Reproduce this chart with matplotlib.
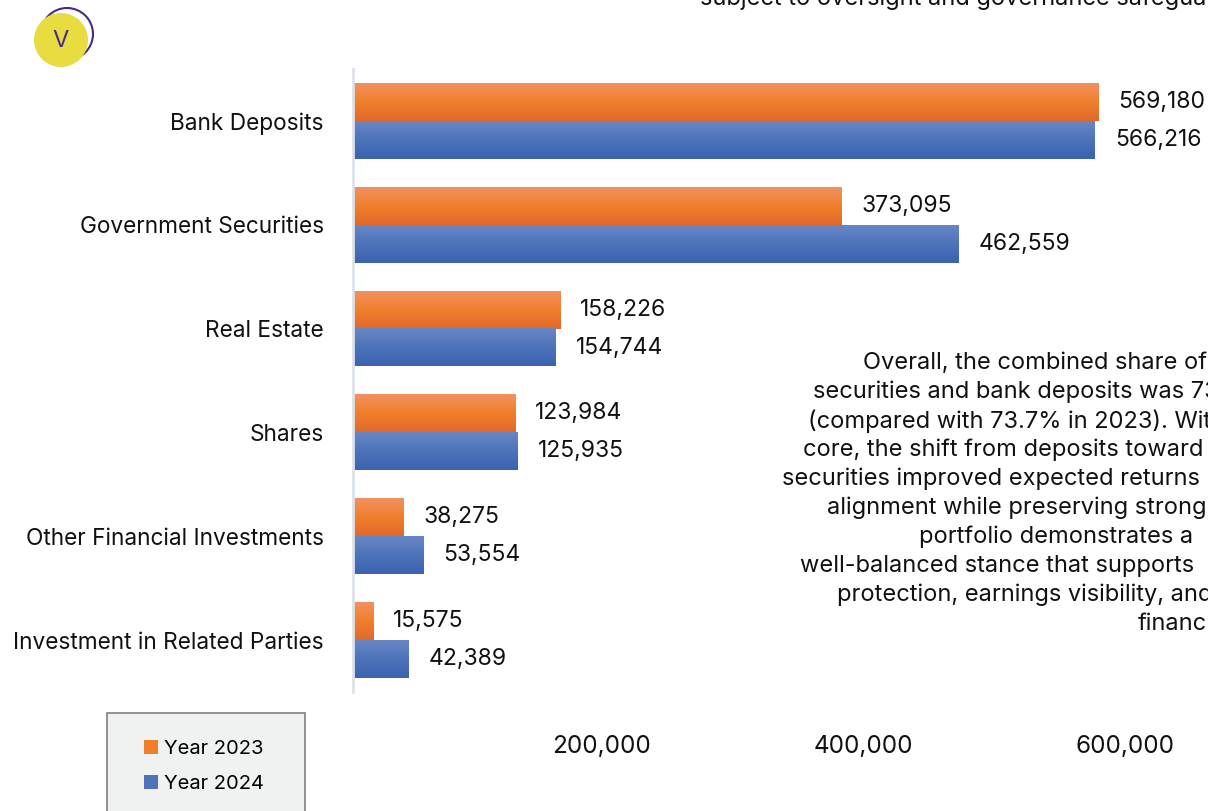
import numpy as np
import matplotlib.pyplot as plt
from matplotlib.patches import Rectangle, Circle
from matplotlib.colors import LinearSegmentedColormap
from matplotlib.transforms import ScaledTranslation

categories = ['Bank Deposits', 'Government Securities', 'Real Estate', 'Shares',
              'Other Financial Investments', 'Investment in Related Parties']
year_2023 = [569180, 373095, 158226, 123984, 38275, 15575]
year_2024 = [566216, 462559, 154744, 125935, 53554, 42389]
xticks = [200000, 400000, 600000]

note_lines = [
    'Overall, the combined share of',
    'securities and bank deposits was 73',
    '(compared with 73.7% in 2023). Wit',
    'core, the shift from deposits toward',
    'securities improved expected returns',
    'alignment while preserving strong',
    'portfolio demonstrates a',
    'well-balanced stance that supports',
    'protection, earnings visibility, and',
    'financ',
]
note_x = [863, 813, 808, 803, 782, 827, 919, 800, 837, 1138]

plt.rcParams['font.family'] = ['Inter', 'DejaVu Sans']
W, H = 1208, 811
fig = plt.figure(figsize=(W / 100, H / 100), dpi=100)

# axes: x=0 sits at px 353, 200k spans ~262 px
x0, y_top, y_bot = 353, 69, 692
xmax = 650000
ax_w = 262 / 200000 * xmax
ax = fig.add_axes([x0 / W, 1 - y_bot / H, ax_w / W, (y_bot - y_top) / H])

y = np.arange(len(categories))
h = 0.365
orange_grad = ['#f29260', '#f07f2b', '#e2682a']
blue_grad = ['#6886c6', '#4d73ba', '#3a62ae']


def gradient_bars(bars, colors):
    cmap = LinearSegmentedColormap.from_list('g', colors)
    grad = np.linspace(0, 1, 64).reshape(-1, 1)
    for b in bars:
        bx, by = b.get_x(), b.get_y()
        bw, bh = b.get_width(), b.get_height()
        b.set_facecolor('none')
        ax.imshow(grad, cmap=cmap, aspect='auto', zorder=2,
                  extent=(bx, bx + bw, by + bh, by), interpolation='bilinear')


bars23 = ax.barh(y - h / 2, year_2023, height=h, color=orange_grad[1], label='Year 2023')
bars24 = ax.barh(y + h / 2, year_2024, height=h, color=blue_grad[1], label='Year 2024')
gradient_bars(bars23, orange_grad)
gradient_bars(bars24, blue_grad)

for bars, vals in ((bars23, year_2023), (bars24, year_2024)):
    for b, v in zip(bars, vals):
        ax.annotate(f'{v:,}', (v, b.get_y() + b.get_height() / 2),
                    xytext=(20, 0), textcoords='offset pixels',
                    ha='left', va='center', fontsize=16.5, color='#111111')

ax.set_xlim(0, xmax)
ax.set_ylim(len(categories) - 0.5, -0.5)
ax.set_yticks(y)
ax.set_yticklabels(categories, fontsize=16.3, color='#111111')
ax.set_xticks(xticks)
ax.set_xticklabels([f'{t:,}' for t in xticks], fontsize=17.5, color='#111111')
ax.tick_params(length=0)
ax.tick_params(axis='y', pad=21)
ax.tick_params(axis='x', pad=31)
shift = ScaledTranslation(-14 / 100, 0, fig.dpi_scale_trans)
for lbl in ax.get_xticklabels():
    lbl.set_transform(lbl.get_transform() + shift)
for s in ('top', 'right', 'bottom'):
    ax.spines[s].set_visible(False)
ax.spines['left'].set_color('#dde2ea')
ax.spines['left'].set_linewidth(2)

# legend box, running off the bottom edge
fig.patches.append(Rectangle((107 / W, -0.05), 198 / W, 1 - 713 / H + 0.05,
                             transform=fig.transFigure, facecolor='#f0f1f1',
                             edgecolor='#7f7f7f', linewidth=1.2))
fig.legend(handles=[bars23[0], bars24[0]], labels=['Year 2023', 'Year 2024'],
           loc='upper left', bbox_to_anchor=(126 / W, 1 - 722 / H),
           frameon=False, fontsize=14.5, handlelength=0.7, handleheight=0.7,
           handletextpad=0.3, labelspacing=0.85)
leg = fig.legends[0]
for patch, c in zip(leg.get_patches(), (orange_grad[1], blue_grad[1])):
    patch.set_facecolor(c)

# note text at right
for i, (line, lx) in enumerate(zip(note_lines, note_x)):
    fig.text(lx / W, 1 - (363 + i * 29) / H, line, fontsize=17, color='#111111',
             ha='left', va='center')

fig.text(700 / W, 1 - 5 / H, 'subject to oversight and governance safeguards',
         fontsize=17, color='#111111', ha='left', va='baseline')

# logo
logo = fig.add_axes([0, 1 - 80 / H, 120 / W, 80 / H])
logo.set_xlim(0, 120)
logo.set_ylim(80, 0)
logo.set_aspect('equal')
logo.axis('off')
logo.add_patch(Circle((67, 34), 26, facecolor='none', edgecolor='#4b2a85', linewidth=1.5))
logo.add_patch(Circle((61, 40), 27, facecolor='#e8dc41', edgecolor='none'))
logo.text(61, 41, 'V', ha='center', va='center', fontsize=17, color='#4b2a85')

fig.savefig('out.png', dpi=100)
